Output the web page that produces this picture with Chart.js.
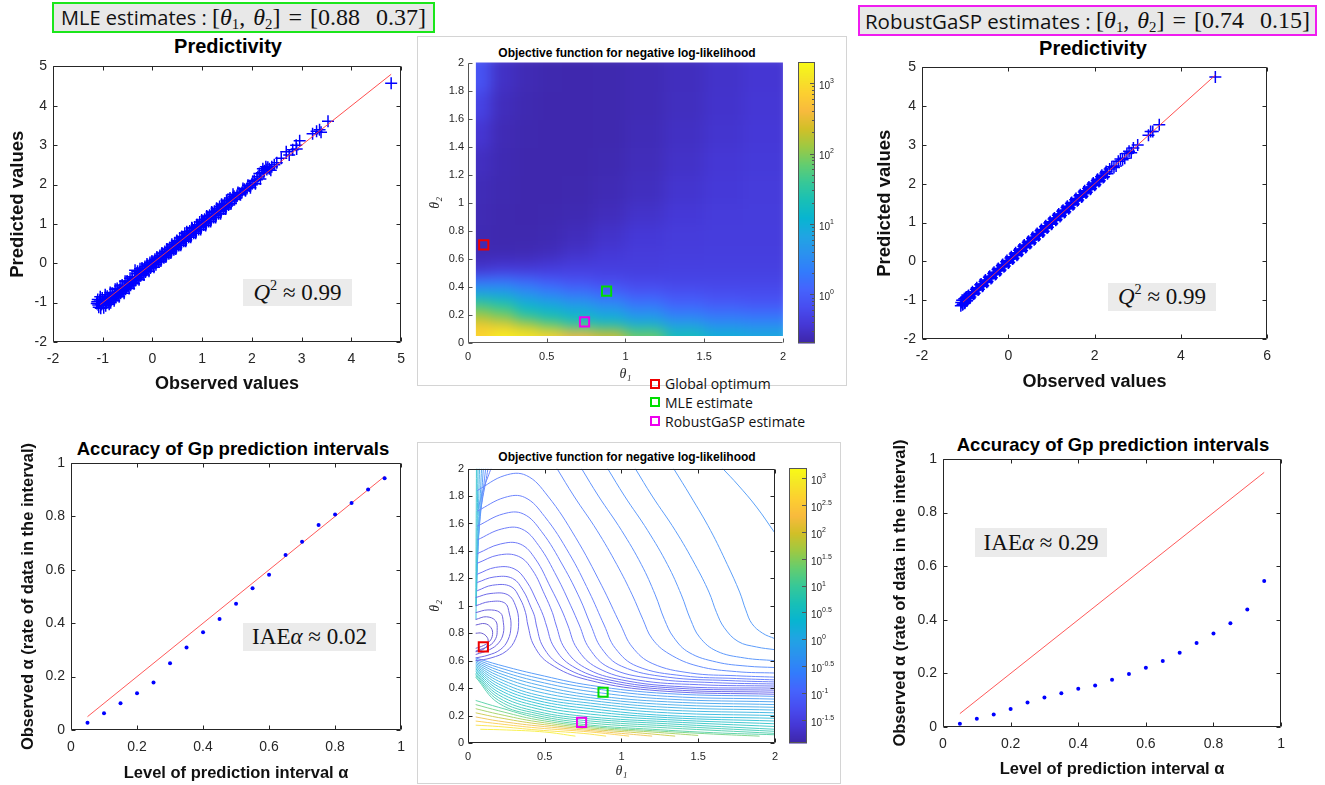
<!DOCTYPE html>
<html><head><meta charset="utf-8">
<script src="https://cdn.jsdelivr.net/npm/chart.js@4.4.1/dist/chart.umd.min.js"></script>
<style>
body{margin:0;background:#fff;width:1325px;height:785px;overflow:hidden;position:relative;font-family:"Liberation Sans",Arial,sans-serif;}
.t{position:absolute;transform:translate(-50%,-50%);white-space:nowrap;font-weight:bold;color:#000;}
.frame{position:absolute;border:1px solid #d4d4d4;box-sizing:border-box;}
.est{position:absolute;box-sizing:border-box;background:#e8e8e8;display:flex;align-items:center;justify-content:center;white-space:nowrap;color:#111;}
.sans{font-family:"Open Sans","Noto Sans",sans-serif;}
.math{font-family:"Liberation Serif","DejaVu Serif",serif;word-spacing:2px;}
.gbox{position:absolute;background:#ebebeb;display:flex;align-items:center;justify-content:center;font-family:"Liberation Serif",serif;white-space:nowrap;color:#111;}
.leg{position:absolute;font-family:"Open Sans","Noto Sans",sans-serif;font-size:14px;line-height:16px;color:#111;white-space:nowrap;}
.sq{position:absolute;width:10px;height:10px;border:2px solid;box-sizing:border-box;}
.sb{position:relative;font-size:0.62em;top:0.3em;}
.sp{position:relative;font-size:0.62em;top:-0.5em;}
canvas{position:absolute;}
</style></head>
<body>
<div class="frame" style="left:417px;top:36px;width:430px;height:350px;"></div>
<div class="frame" style="left:417px;top:442px;width:424px;height:342px;"></div>

<div class="est" style="left:52px;top:2px;width:383px;height:31px;border:2px solid #1be61b;"><span class="sans" style="font-size:20px">MLE estimates :&nbsp;</span><span class="math" style="font-size:24px">[<i>θ</i><span class="sb">1</span>, <i>θ</i><span class="sb">2</span>] = [0.88&nbsp;&nbsp;0.37]</span></div>
<div class="est" style="left:858px;top:5px;width:459px;height:31px;border:2px solid #f01cf0;"><span class="sans" style="font-size:20.5px">RobustGaSP estimates :&nbsp;</span><span class="math" style="font-size:24px">[<i>θ</i><span class="sb">1</span>, <i>θ</i><span class="sb">2</span>] = [0.74&nbsp;&nbsp;0.15]</span></div>

<div class="t" style="left:228px;top:46px;font-size:20px;">Predictivity</div>
<div class="t" style="left:1093px;top:48px;font-size:20px;">Predictivity</div>
<div class="t" style="left:627px;top:53px;font-size:12px;">Objective function for negative log-likelihood</div>
<div class="t" style="left:627px;top:457px;font-size:12px;">Objective function for negative log-likelihood</div>
<div class="t" style="left:233px;top:449px;font-size:18.5px;">Accuracy of Gp prediction intervals</div>
<div class="t" style="left:1113px;top:445px;font-size:18.5px;">Accuracy of Gp prediction intervals</div>

<div id="overlay"></div>

<script>
// ---------------- DATA ----------------
const mlePoints = [
[-1.12,-1.02],[-1.10,-0.92],[-1.08,-1.12],[-1.05,-0.85],[-1.03,-1.05],[-1.00,-0.95],[-0.98,-1.13],[-0.95,-0.80],[-0.92,-1.00],[-0.90,-0.88],
[-0.87,-1.04],[-0.85,-0.74],[-0.82,-0.92],[-0.80,-0.82],[-0.77,-0.95],[-0.75,-0.66],[-0.72,-0.82],[-0.70,-0.72],[-0.67,-0.85],[-0.65,-0.58],
[-0.62,-0.72],[-0.60,-0.62],[-0.57,-0.76],[-0.55,-0.46],[-0.52,-0.60],[-0.50,-0.50],[-0.47,-0.64],[-0.45,-0.38],[-0.42,-0.50],[-0.40,-0.42],
[-0.37,-0.52],[-0.35,-0.18],[-0.32,-0.38],[-0.30,-0.20],[-0.27,-0.42],[-0.25,-0.14],[-0.22,-0.28],[-0.20,-0.16],[-0.17,-0.30],[-0.15,-0.08],
[-0.12,-0.18],[-0.10,-0.06],[-0.07,-0.20],[-0.05,0.02],[-0.02,-0.08],[0.00,0.00],[0.03,-0.10],[0.05,0.10],[0.08,0.02],[0.10,0.12],
[0.13,0.04],[0.15,0.20],[0.18,0.10],[0.20,0.24],[0.23,0.14],[0.25,0.30],[0.28,0.20],[0.30,0.34],[0.33,0.24],[0.35,0.40],
[0.38,0.30],[0.40,0.44],[0.43,0.34],[0.45,0.52],[0.48,0.40],[0.50,0.55],[0.53,0.45],[0.55,0.64],[0.58,0.50],[0.60,0.66],
[0.63,0.56],[0.65,0.76],[0.68,0.60],[0.70,0.76],[0.73,0.66],[0.75,0.82],[0.78,0.72],[0.80,0.88],[0.83,0.76],[0.85,0.92],
[0.88,0.82],[0.90,0.98],[0.93,0.86],[0.95,1.05],[0.98,0.92],[1.00,1.06],[1.03,0.97],[1.05,1.12],[1.08,1.02],[1.10,1.18],
[1.13,1.06],[1.15,1.22],[1.18,1.12],[1.20,1.28],[1.23,1.16],[1.25,1.32],[1.28,1.22],[1.30,1.38],[1.33,1.26],[1.35,1.44],
[1.38,1.32],[1.40,1.46],[1.43,1.38],[1.45,1.52],[1.48,1.42],[1.50,1.58],[1.53,1.48],[1.55,1.60],[1.58,1.52],[1.62,1.75],
[1.65,1.62],[1.70,1.72],[1.75,1.78],[1.80,1.80],[1.85,1.88],[1.90,1.90],[1.95,1.96],[2.00,2.02],[2.05,2.10],[2.10,2.12],
[2.15,2.28],[2.20,2.30],[2.22,2.40],[2.25,2.35],[2.28,2.45],[2.30,2.38],[2.35,2.40],[2.40,2.45],[2.50,2.55],[2.59,2.67],
[2.69,2.83],[2.75,2.75],[2.82,2.88],[2.89,3.00],[2.96,3.11],[2.90,2.90],[3.22,3.29],[3.30,3.35],[3.36,3.39],[3.39,3.33],
[3.53,3.61],[4.80,4.57],
[-1.11,-0.98],[-1.09,-1.06],[-1.06,-0.96],[-1.04,-1.14],[-1.01,-0.88],[-0.99,-1.04],[-0.96,-0.92],[-0.94,-1.08],[-0.91,-0.84],[-0.89,-0.96],
[-0.86,-0.88],[-0.84,-1.00],[-0.81,-0.76],[-0.79,-0.90],[-0.76,-0.78],[-0.74,-0.86],[-0.71,-0.64],[-0.69,-0.80],[-0.66,-0.68],[-0.64,-0.76],
[-0.61,-0.55],[-0.59,-0.70],[-0.56,-0.58],[-0.54,-0.66],[-0.51,-0.45],[-0.49,-0.58],[-0.46,-0.48],[-0.44,-0.56],[-0.41,-0.34],[-0.39,-0.48],
[-0.36,-0.36],[-0.34,-0.44],[-0.31,-0.26],[-0.29,-0.36],[-0.26,-0.24],[-0.24,-0.32],[-0.21,-0.12],[-0.19,-0.26],[-0.16,-0.14],[-0.14,-0.22],
[-0.11,-0.02],[-0.09,-0.14],[-0.06,-0.04],[-0.04,-0.12],[-0.01,0.06],[0.02,-0.04],[0.04,0.06],[0.07,-0.04],[0.09,0.16],[0.12,0.06],
[0.14,0.14],[0.17,0.06],[0.19,0.26],[0.22,0.16],[0.24,0.24],[0.27,0.16],[0.29,0.36],[0.32,0.28],[0.34,0.34],[0.37,0.26],
[0.39,0.48],[0.42,0.38],[0.44,0.44],[0.47,0.36],[0.49,0.58],[0.52,0.50],[0.54,0.54],[0.57,0.46],[0.59,0.68],[0.62,0.60],
[0.64,0.64],[0.67,0.56],[0.69,0.80],[0.72,0.70],[0.74,0.74],[0.77,0.66],[0.79,0.90],[0.82,0.82],[0.84,0.84],[0.87,0.76],
[0.89,0.98],[0.92,0.92],[0.94,0.94],[0.97,0.86],[0.99,1.10],[1.02,1.02],[1.04,1.04],[1.07,0.96],[1.09,1.20],[1.12,1.12],
[1.14,1.14],[1.17,1.06],[1.19,1.30],[1.22,1.22],[1.24,1.24],[1.27,1.16],[1.29,1.40],[1.32,1.32],[1.34,1.34],[1.37,1.26],
[1.39,1.50],[1.42,1.42],[1.44,1.44],[1.47,1.38],[1.49,1.60],[1.52,1.52],[1.56,1.66],[1.60,1.58],[1.64,1.70],[1.68,1.66],
[1.72,1.80],[1.77,1.74],[1.82,1.90],[1.87,1.84],[1.92,1.98],[1.97,1.92],[2.02,2.08],[2.07,2.02],[2.12,2.20],[2.17,2.14],
[2.24,2.30],[2.32,2.44],[2.38,2.36],[2.45,2.50]
];
const rgaspPoints = [
[-1.10,-1.14],[-1.07,-1.00],[-1.05,-1.10],[-1.02,-0.96],[-1.00,-1.06],[-0.97,-0.92],[-0.95,-1.00],[-0.92,-0.88],[-0.90,-0.95],[-0.85,-0.82],
[-0.80,-0.84],[-0.75,-0.72],[-0.70,-0.74],[-0.65,-0.60],[-0.60,-0.64],[-0.55,-0.52],[-0.50,-0.54],[-0.45,-0.41],[-0.40,-0.44],[-0.35,-0.31],
[-0.30,-0.34],[-0.25,-0.21],[-0.20,-0.24],[-0.15,-0.11],[-0.10,-0.14],[-0.05,-0.01],[0.00,-0.04],[0.05,0.09],[0.10,0.06],[0.15,0.19],
[0.20,0.16],[0.25,0.29],[0.30,0.26],[0.35,0.39],[0.40,0.36],[0.45,0.49],[0.50,0.46],[0.55,0.59],[0.60,0.56],[0.65,0.69],
[0.70,0.66],[0.75,0.79],[0.80,0.76],[0.85,0.89],[0.90,0.86],[0.95,0.99],[1.00,0.96],[1.05,1.09],[1.10,1.06],[1.15,1.19],
[1.20,1.16],[1.25,1.29],[1.30,1.26],[1.35,1.39],[1.40,1.36],[1.45,1.49],[1.50,1.46],[1.55,1.59],[1.60,1.56],[1.65,1.69],
[1.70,1.66],[1.75,1.79],[1.80,1.76],[1.85,1.88],[1.90,1.86],[1.95,1.98],[2.00,1.96],[2.05,2.08],[2.10,2.06],[2.15,2.18],
[2.20,2.16],[2.25,2.28],[2.30,2.26],[2.40,2.44],[2.50,2.46],[2.60,2.64],[2.70,2.66],[2.80,2.84],[2.85,2.80],[2.90,2.92],
[3.00,3.00],[3.25,3.25],[3.30,3.35],[3.35,3.35],[3.50,3.52],[4.80,4.75],
[-1.09,-1.06],[-1.06,-1.12],[-1.04,-1.00],[-1.01,-1.08],[-0.99,-0.94],[-0.96,-1.02],[-0.93,-0.90],[-0.88,-0.92],[-0.83,-0.78],[-0.78,-0.82],
[-0.73,-0.68],[-0.68,-0.72],[-0.63,-0.58],[-0.58,-0.62],[-0.53,-0.48],[-0.48,-0.52],[-0.43,-0.38],[-0.38,-0.42],[-0.33,-0.28],[-0.28,-0.32],
[-0.23,-0.18],[-0.18,-0.22],[-0.13,-0.08],[-0.08,-0.12],[-0.03,0.02],[0.02,-0.02],[0.07,0.12],[0.12,0.08],[0.17,0.22],[0.22,0.18],
[0.27,0.32],[0.32,0.28],[0.37,0.42],[0.42,0.38],[0.47,0.52],[0.52,0.48],[0.57,0.62],[0.62,0.58],[0.67,0.72],[0.72,0.68],
[0.77,0.82],[0.82,0.78],[0.87,0.92],[0.92,0.88],[0.97,1.02],[1.02,0.98],[1.07,1.12],[1.12,1.08],[1.17,1.22],[1.22,1.18],
[1.27,1.32],[1.32,1.28],[1.37,1.42],[1.42,1.38],[1.47,1.52],[1.52,1.48],[1.57,1.62],[1.62,1.58],[1.67,1.72],[1.72,1.68],
[1.77,1.82],[1.82,1.78],[1.87,1.92],[1.92,1.88],[1.97,2.02],[2.02,1.98],[2.07,2.12],[2.12,2.08],[2.17,2.22],[2.22,2.18],
[2.27,2.32],[2.35,2.38],[2.45,2.42],[2.55,2.58],[2.65,2.62],[2.75,2.78]
];
const refLineMLE = [-1.05, 4.80];
const refLineRG = [-1.05, 4.80];

const alphaLevels = [0.05,0.10,0.15,0.20,0.25,0.30,0.35,0.40,0.45,0.50,0.55,0.60,0.65,0.70,0.75,0.80,0.85,0.90,0.95];
const coverageMLE = [0.0275,0.0625,0.100,0.1375,0.1775,0.250,0.309,0.366,0.416,0.4725,0.531,0.581,0.655,0.705,0.7675,0.8075,0.850,0.901,0.9425];
const coverageRG  = [0.0125,0.031,0.047,0.067,0.091,0.110,0.126,0.143,0.155,0.176,0.198,0.221,0.246,0.277,0.313,0.349,0.387,0.438,0.545];
const refLineAlpha = [0.05, 0.95];

const globalOptimum = [0.10, 0.70];
const mleEstimate = [0.88, 0.37];
const rgaspEstimate = [0.74, 0.15];

// heat map of log10(objective), rows bottom -> top
const heatTh1Edges = [0.05,0.15,0.3,0.45,0.6,0.8,1.0,1.25,1.5,1.75,2.0];
const heatTh2Edges = [0.05,0.1,0.15,0.2,0.25,0.3,0.35,0.4,0.45,0.5,0.6,0.7,0.85,1.0,1.2,1.4,1.6,1.8,2.0];
const heatLog10 = [
[2.9,3.2,3.1,2.9,2.6,2.4,1.9,1.3,1.0,0.9],
[2.8,2.7,2.4,2.0,1.6,1.4,1.1,0.8,0.6,0.55],
[2.3,2.1,1.7,1.4,1.25,1.05,0.8,0.55,0.4,0.35],
[2.0,1.8,1.35,1.2,1.0,0.8,0.55,0.3,0.2,0.15],
[1.7,1.5,1.1,0.95,0.75,0.55,0.3,0.1,0.0,-0.05],
[1.2,1.1,0.8,0.6,0.45,0.3,0.1,-0.05,-0.1,-0.15],
[0.75,0.7,0.5,0.35,0.2,0.05,-0.1,-0.15,-0.2,-0.2],
[0.4,0.4,0.25,0.1,-0.05,-0.15,-0.2,-0.25,-0.25,-0.25],
[0.05,0.1,0.0,-0.15,-0.2,-0.25,-0.3,-0.3,-0.3,-0.3],
[-0.5,-0.45,-0.45,-0.4,-0.35,-0.35,-0.35,-0.33,-0.33,-0.33],
[-0.63,-0.63,-0.62,-0.58,-0.5,-0.42,-0.38,-0.36,-0.35,-0.35],
[-0.63,-0.65,-0.65,-0.63,-0.58,-0.5,-0.42,-0.38,-0.36,-0.36],
[-0.62,-0.65,-0.66,-0.65,-0.63,-0.58,-0.5,-0.42,-0.38,-0.37],
[-0.6,-0.64,-0.66,-0.66,-0.65,-0.62,-0.56,-0.47,-0.41,-0.38],
[-0.55,-0.63,-0.66,-0.66,-0.66,-0.64,-0.59,-0.51,-0.44,-0.4],
[-0.45,-0.62,-0.65,-0.66,-0.66,-0.65,-0.61,-0.54,-0.47,-0.42],
[-0.3,-0.58,-0.64,-0.66,-0.66,-0.65,-0.62,-0.56,-0.49,-0.44],
[-0.1,-0.53,-0.62,-0.65,-0.66,-0.65,-0.62,-0.57,-0.5,-0.45]
];
const heatRange = [-0.69, 3.30];
const heatBarExps = [0,1,2,3];

// contour lines [theta1, theta2], with their log10 levels
const contourOuter = [
[[1.66,2.0],[1.76,1.88],[1.88,1.72],[2.0,1.53]],
[[1.34,2.0],[1.45,1.8],[1.58,1.55],[1.69,1.3],[1.77,1.1],[1.81,0.97],[1.85,0.87],[1.92,0.8],[2.0,0.76]],
[[1.09,2.0],[1.2,1.8],[1.35,1.55],[1.48,1.3],[1.57,1.1],[1.62,0.95],[1.67,0.84],[1.76,0.74],[1.88,0.7],[2.0,0.68]],
[[0.91,2.0],[1.02,1.8],[1.17,1.55],[1.3,1.3],[1.39,1.08],[1.45,0.9],[1.51,0.77],[1.62,0.67],[1.8,0.62],[2.0,0.6]],
[[0.74,2.0],[0.85,1.8],[1.0,1.55],[1.13,1.3],[1.22,1.08],[1.28,0.9],[1.34,0.77],[1.44,0.66],[1.62,0.59],[1.82,0.56],[2.0,0.55]],
[[0.58,2.0],[0.69,1.8],[0.84,1.55],[0.97,1.3],[1.07,1.08],[1.14,0.9],[1.2,0.76],[1.31,0.65],[1.5,0.56],[1.75,0.52],[2.0,0.51]]
];
const levelsOuter = [-0.45,-0.5,-0.55,-0.6,-0.7,-0.8];
const contourPeaked = [
[[0.06,1.84],[0.24,1.95],[0.38,1.95],[0.52,1.8],[0.7,1.5],[0.87,1.15],[0.995,0.86],[1.07,0.7],[1.2,0.58],[1.45,0.51],[1.75,0.49],[2.0,0.48]],
[[0.06,1.69],[0.24,1.79],[0.37,1.79],[0.5,1.65],[0.66,1.38],[0.79,1.1],[0.887,0.86],[0.96,0.69],[1.1,0.56],[1.4,0.49],[1.75,0.47],[2.0,0.46]],
[[0.06,1.58],[0.23,1.67],[0.36,1.67],[0.48,1.54],[0.62,1.29],[0.73,1.05],[0.80,0.86],[0.87,0.69],[1.0,0.56],[1.3,0.48],[1.7,0.455],[2.0,0.445]],
[[0.06,1.48],[0.22,1.56],[0.35,1.56],[0.46,1.44],[0.58,1.21],[0.67,1.0],[0.725,0.86],[0.79,0.69],[0.92,0.55],[1.2,0.47],[1.6,0.44],[2.0,0.43]],
[[0.06,1.38],[0.21,1.45],[0.34,1.45],[0.44,1.34],[0.54,1.13],[0.61,0.97],[0.65,0.86],[0.71,0.69],[0.84,0.55],[1.1,0.46],[1.5,0.425],[2.0,0.415]],
[[0.06,1.31],[0.2,1.37],[0.33,1.36],[0.42,1.26],[0.5,1.08],[0.55,0.95],[0.574,0.86],[0.63,0.69],[0.76,0.55],[1.0,0.46],[1.4,0.41],[2.0,0.40]],
[[0.06,1.23],[0.18,1.28],[0.3,1.27],[0.38,1.18],[0.45,1.03],[0.49,0.93],[0.51,0.86],[0.56,0.7],[0.68,0.56],[0.92,0.46],[1.35,0.4],[2.0,0.385]],
[[0.06,1.17],[0.17,1.21],[0.29,1.2],[0.36,1.11],[0.41,0.99],[0.435,0.92],[0.445,0.86],[0.49,0.7],[0.6,0.57],[0.85,0.46],[1.3,0.39],[2.0,0.37]],
[[0.06,1.11],[0.16,1.15],[0.28,1.14],[0.34,1.05],[0.375,0.95],[0.39,0.86],[0.43,0.71],[0.53,0.58],[0.78,0.46],[1.25,0.38],[2.0,0.355]],
[[0.05,1.06],[0.15,1.09],[0.26,1.08],[0.31,1.0],[0.33,0.88],[0.31,0.76],[0.25,0.67],[0.15,0.62],[0.05,0.6]],
[[0.05,1.0],[0.14,1.03],[0.24,1.02],[0.27,0.94],[0.28,0.85],[0.26,0.75],[0.21,0.68],[0.13,0.64],[0.05,0.62]],
[[0.05,0.95],[0.13,0.97],[0.21,0.95],[0.23,0.88],[0.23,0.8],[0.2,0.73],[0.14,0.68],[0.05,0.645]],
[[0.05,0.9],[0.12,0.92],[0.18,0.89],[0.19,0.82],[0.18,0.76],[0.14,0.71],[0.05,0.67]],
[[0.05,0.86],[0.11,0.87],[0.15,0.84],[0.16,0.79],[0.14,0.74],[0.1,0.71],[0.05,0.69]],
[[0.05,0.8],[0.09,0.8],[0.125,0.77],[0.13,0.73],[0.11,0.69],[0.07,0.67],[0.05,0.665]]
];
const levelsPeaked = [-0.9,-0.97,-1.04,-1.1,-1.16,-1.22,-1.28,-1.34,-1.4,-1.46,-1.52,-1.58,-1.64,-1.7,-1.76];
const contourLeft = [
[[0.055,2.0],[0.053,1.5],[0.051,1.0]],
[[0.065,2.0],[0.06,1.6],[0.055,1.2],[0.052,0.9]],
[[0.075,2.0],[0.068,1.7],[0.06,1.35],[0.054,1.0]],
[[0.088,2.0],[0.078,1.75],[0.066,1.45],[0.056,1.1]],
[[0.10,2.0],[0.088,1.8],[0.072,1.55],[0.058,1.25]],
[[0.115,2.0],[0.10,1.85],[0.08,1.65],[0.06,1.4]],
[[0.13,2.0],[0.115,1.9],[0.09,1.75],[0.062,1.55]],
[[0.15,2.0],[0.13,1.94],[0.10,1.85],[0.065,1.7]]
];
const levelsLeft = [0.5,0.25,0.0,-0.25,-0.5,-0.7,-0.85,-1.0];
const contourFan = [
[[0.05,0.62],[0.2,0.57],[0.45,0.5],[0.8,0.42],[1.3,0.36],[2.0,0.34]],
[[0.05,0.61],[0.2,0.55],[0.45,0.475],[0.8,0.4],[1.3,0.34],[2.0,0.32]],
[[0.05,0.60],[0.2,0.53],[0.45,0.45],[0.8,0.375],[1.3,0.32],[2.0,0.3]],
[[0.05,0.59],[0.2,0.51],[0.45,0.425],[0.8,0.35],[1.3,0.3],[2.0,0.28]],
[[0.05,0.58],[0.2,0.49],[0.45,0.4],[0.8,0.33],[1.3,0.28],[2.0,0.26]],
[[0.05,0.57],[0.2,0.47],[0.45,0.375],[0.8,0.31],[1.3,0.26],[2.0,0.24]],
[[0.05,0.56],[0.2,0.45],[0.45,0.35],[0.8,0.29],[1.3,0.24],[2.0,0.22]],
[[0.05,0.55],[0.2,0.43],[0.45,0.33],[0.8,0.27],[1.3,0.22],[2.0,0.2]],
[[0.05,0.54],[0.2,0.41],[0.45,0.31],[0.8,0.25],[1.3,0.2],[2.0,0.18]],
[[0.05,0.53],[0.2,0.39],[0.45,0.29],[0.8,0.23],[1.3,0.185],[2.0,0.16]],
[[0.05,0.52],[0.2,0.37],[0.45,0.27],[0.8,0.21],[1.3,0.17],[2.0,0.14]],
[[0.05,0.51],[0.2,0.35],[0.45,0.25],[0.8,0.19],[1.3,0.155],[2.0,0.12]],
[[0.05,0.50],[0.2,0.33],[0.45,0.23],[0.8,0.175],[1.3,0.14],[2.0,0.1]],
[[0.05,0.49],[0.2,0.31],[0.45,0.215],[0.8,0.16],[1.3,0.125],[2.0,0.085]],
[[0.05,0.48],[0.2,0.29],[0.45,0.2],[0.8,0.145],[1.3,0.11],[2.0,0.07]]
];
const levelsFan = [-0.5,-0.4,-0.3,-0.2,-0.1,0.0,0.1,0.2,0.3,0.4,0.5,0.6,0.7,0.8,0.9];
const contourBottom = [
[[0.05,0.31],[0.2,0.26],[0.45,0.185],[0.8,0.13],[1.2,0.1],[1.6,0.075],[2.0,0.06]],
[[0.05,0.28],[0.2,0.235],[0.45,0.17],[0.8,0.12],[1.2,0.09],[1.6,0.065],[1.9,0.05]],
[[0.05,0.25],[0.2,0.21],[0.45,0.155],[0.8,0.11],[1.2,0.08],[1.5,0.055]],
[[0.05,0.22],[0.2,0.185],[0.45,0.14],[0.8,0.1],[1.1,0.075],[1.35,0.05]],
[[0.05,0.19],[0.2,0.16],[0.45,0.125],[0.8,0.09],[1.0,0.07],[1.2,0.05]],
[[0.05,0.16],[0.2,0.14],[0.45,0.11],[0.8,0.08],[1.05,0.05]],
[[0.05,0.13],[0.2,0.12],[0.45,0.095],[0.75,0.07],[0.9,0.05]],
[[0.08,0.1],[0.25,0.095],[0.5,0.08],[0.7,0.05]]
];
const levelsBottom = [1.0,1.3,1.6,1.9,2.2,2.5,2.8,3.0];
const contourRange = [-1.93, 3.19];
const contourBarExps = [-1.5,-1,-0.5,0,0.5,1,1.5,2,2.5,3];

// ---------------- STYLE HELPERS ----------------
const PARULA = [[0.2422,0.1504,0.6603],[0.2706,0.2147,0.8364],[0.2813,0.3006,0.9414],[0.2699,0.3892,0.9906],[0.1963,0.4847,0.9892],[0.1687,0.5703,0.9359],[0.1248,0.6459,0.8883],[0.0297,0.7082,0.8163],[0.0964,0.7500,0.7120],[0.2161,0.7843,0.5923],[0.3909,0.8029,0.4354],[0.6174,0.7876,0.2612],[0.8203,0.7498,0.1535],[0.9728,0.7298,0.2394],[0.9892,0.8136,0.1885],[0.9597,0.9135,0.1423],[0.9769,0.9839,0.0805]];
const PARULA_T = [0,4,8,12,16,20,24,28,32,36,40,44,48,52,56,60,63].map(i=>i/63);
function parulaRGB(t){
  t = Math.max(0, Math.min(1, t));
  let i = 0; while (i < PARULA_T.length - 2 && t > PARULA_T[i+1]) i++;
  const f = (t - PARULA_T[i]) / (PARULA_T[i+1] - PARULA_T[i]);
  const a = PARULA[i], b = PARULA[i+1];
  return [0,1,2].map(k => 255*(a[k] + (b[k]-a[k])*f));
}
const rgbStr = c => 'rgb(' + c.map(v => Math.round(v)).join(',') + ')';
const parula = t => rgbStr(parulaRGB(t));
const heatColor = v => parula((v - heatRange[0]) / (heatRange[1] - heatRange[0]));
const contColor = v => rgbStr(parulaRGB((v - contourRange[0]) / (contourRange[1] - contourRange[0])).map(c => c + (255 - c)*0.22));

Chart.defaults.font.family = "'Liberation Sans', Arial, sans-serif";
Chart.defaults.animation = false;
Chart.defaults.events = [];
Chart.defaults.plugins.legend.display = false;
Chart.defaults.plugins.tooltip.enabled = false;

function makeCanvas(plot, pad){
  const c = document.createElement('canvas');
  const w = plot.r - plot.l + pad.l + pad.r, h = plot.b - plot.t + pad.t + pad.b;
  c.style.left = (plot.l - pad.l) + 'px'; c.style.top = (plot.t - pad.t) + 'px';
  c.style.width = w + 'px'; c.style.height = h + 'px'; c.width = w; c.height = h;
  document.body.appendChild(c);
  return c;
}
const fmt = v => String(+(+v).toFixed(2));
function axis(o){
  return {
    type:'linear', position:o.pos, min:o.min, max:o.max,
    afterFit(s){ if (o.pos === 'left' || o.pos === 'right') s.width = o.fit; else s.height = o.fit; },
    grid:{display:false, drawTicks:false}, border:{display:false},
    ticks:{stepSize:o.step, padding:o.tpad, color:'#262626', font:{size:o.fs}, maxRotation:0, autoSkip:false, callback:fmt},
    title:{display:true, text:o.title, color:o.tcolor || '#111', padding:{top:4,bottom:4},
      font:{family:o.tfam || "'Liberation Sans', Arial, sans-serif", size:o.tfs, weight:o.tw || 'bold', style:o.tstyle || 'normal'}}
  };
}
const boxPlugin = {
  id:'box',
  afterDatasetsDraw(chart, args, opts){
    const {ctx, chartArea:a, scales:{x, y}} = chart;
    const sides = opts.sides || 'lrtb', tl = opts.tick || 4;
    const L = Math.round(a.left) + 0.5, R = Math.round(a.right) - 0.5, T = Math.round(a.top) + 0.5, B = Math.round(a.bottom) - 0.5;
    ctx.save(); ctx.strokeStyle = opts.color || '#262626'; ctx.lineWidth = 1; ctx.beginPath();
    if (sides.includes('l')) { ctx.moveTo(L, T); ctx.lineTo(L, B); }
    if (sides.includes('r')) { ctx.moveTo(R, T); ctx.lineTo(R, B); }
    if (sides.includes('t')) { ctx.moveTo(L, T); ctx.lineTo(R, T); }
    if (sides.includes('b')) { ctx.moveTo(L, B); ctx.lineTo(R, B); }
    x.ticks.forEach(t => { const p = Math.round(x.getPixelForValue(t.value)) + 0.5;
      if (sides.includes('b')) { ctx.moveTo(p, B); ctx.lineTo(p, B - tl); }
      if (sides.includes('t')) { ctx.moveTo(p, T); ctx.lineTo(p, T + tl); } });
    y.ticks.forEach(t => { const p = Math.round(y.getPixelForValue(t.value)) + 0.5;
      if (sides.includes('l')) { ctx.moveTo(L, p); ctx.lineTo(L + tl, p); }
      if (sides.includes('r')) { ctx.moveTo(R, p); ctx.lineTo(R - tl, p); } });
    ctx.stroke(); ctx.restore();
  }
};
const pts = arr => arr.map(p => ({x:p[0], y:p[1]}));
const lineDs = (ends, color) => ({data:[{x:ends[0],y:ends[0]},{x:ends[1],y:ends[1]}], showLine:true, borderColor:color, borderWidth:1, pointRadius:0});

// ---------------- PREDICTIVITY SCATTERS ----------------
function predictivity(plot, pad, points, ref, xmin, xmax, xstep){
  new Chart(makeCanvas(plot, pad), {
    type:'scatter',
    data:{datasets:[
      lineDs(ref, 'rgba(255,60,60,0.9)'),
      {data:pts(points), pointStyle:'cross', pointRadius:6, borderColor:'#0000ff', borderWidth:1.5, backgroundColor:'#0000ff'}
    ]},
    options:{responsive:false, layout:{padding:{top:pad.t, right:pad.r, left:0, bottom:0}},
      scales:{
        x:axis({pos:'bottom', min:xmin, max:xmax, step:xstep, fit:pad.b, tpad:9, fs:14, title:'Observed values', tfs:18}),
        y:axis({pos:'left', min:-2, max:5, step:1, fit:pad.l, tpad:6, fs:14, title:'Predicted values', tfs:18.5})
      },
      plugins:{box:{sides:'lrtb'}}},
    plugins:[boxPlugin]
  });
}
predictivity({l:53,t:62,r:402,b:342}, {l:50,t:10,r:12,b:57}, mlePoints, refLineMLE, -2, 5, 1);
predictivity({l:922,t:63,r:1268,b:339}, {l:52,t:10,r:12,b:58}, rgaspPoints, refLineRG, -2, 6, 2);

// ---------------- ACCURACY PLOTS ----------------
function accuracy(plot, pad, cov){
  new Chart(makeCanvas(plot, pad), {
    type:'scatter',
    data:{datasets:[
      {data:alphaLevels.map((a,i)=>({x:a, y:cov[i]})), pointStyle:'circle', pointRadius:2, borderWidth:0, backgroundColor:'#0000ff'},
      lineDs(refLineAlpha, 'rgba(255,60,60,0.85)')
    ]},
    options:{responsive:false, layout:{padding:{top:pad.t, right:pad.r, left:0, bottom:0}},
      scales:{
        x:axis({pos:'bottom', min:0, max:1, step:0.2, fit:pad.b, tpad:9, fs:14, title:'Level of prediction interval α', tfs:16.5}),
        y:axis({pos:'left', min:0, max:1, step:0.2, fit:pad.l, tpad:6, fs:14, title:'Observed α (rate of data in the interval)', tfs:16.5})
      },
      plugins:{box:{sides:'lrtb'}}},
    plugins:[boxPlugin]
  });
}
accuracy({l:71,t:463,r:402,b:730}, {l:56,t:50,r:12,b:57}, coverageMLE);
accuracy({l:943,t:459,r:1282,b:727}, {l:56,t:50,r:12,b:56}, coverageRG);

// ---------------- HEAT MAP ----------------
const markerSets = () => [
  {data:[{x:globalOptimum[0], y:globalOptimum[1]}], pointStyle:'rect', pointRadius:6.5, borderWidth:2, borderColor:'#ee0000', backgroundColor:'rgba(0,0,0,0)'},
  {data:[{x:mleEstimate[0], y:mleEstimate[1]}], pointStyle:'rect', pointRadius:6.5, borderWidth:2, borderColor:'#00dd00', backgroundColor:'rgba(0,0,0,0)'},
  {data:[{x:rgaspEstimate[0], y:rgaspEstimate[1]}], pointStyle:'rect', pointRadius:6.5, borderWidth:2, borderColor:'#ee00ee', backgroundColor:'rgba(0,0,0,0)'}
];
const heatPlugin = {
  id:'heat',
  beforeDatasetsDraw(chart){
    const {ctx, scales:{x, y}} = chart;
    const W = chart.width, H = chart.height, dpr = chart.currentDevicePixelRatio || 1;
    const off = document.createElement('canvas'); off.width = Math.round(W*dpr); off.height = Math.round(H*dpr);
    const o = off.getContext('2d'); o.scale(dpr, dpr);
    const nr = heatTh2Edges.length - 1, nc = heatTh1Edges.length - 1;
    for (let r = 0; r < nr; r++) for (let c = 0; c < nc; c++) {
      let x0 = x.getPixelForValue(heatTh1Edges[c]), x1 = x.getPixelForValue(heatTh1Edges[c+1]);
      let y0 = y.getPixelForValue(heatTh2Edges[r+1]), y1 = y.getPixelForValue(heatTh2Edges[r]);
      if (c === 0) x0 -= 30; if (c === nc-1) x1 += 30; if (r === 0) y1 += 30; if (r === nr-1) y0 -= 30;
      o.fillStyle = heatColor(heatLog10[r][c]);
      o.fillRect(Math.floor(x0), Math.floor(y0), Math.ceil(x1-x0)+1, Math.ceil(y1-y0)+1);
    }
    const cl = x.getPixelForValue(0.05), cr = x.getPixelForValue(2), ct = y.getPixelForValue(2), cb = y.getPixelForValue(0.05);
    ctx.save(); ctx.beginPath(); ctx.rect(cl, ct, cr-cl, cb-ct); ctx.clip();
    ctx.filter = 'blur(7px)'; ctx.drawImage(off, 0, 0, W, H); ctx.filter = 'none'; ctx.restore();
  }
};
function thetaAxes(fitL, fitB, tpadX){
  return {
    x:axis({pos:'bottom', min:0, max:2, step:0.5, fit:fitB, tpad:tpadX, fs:11, title:'θ₁', tfs:14, tfam:"'Liberation Serif', serif", tw:'normal', tstyle:'italic', tcolor:'#262626'}),
    y:axis({pos:'left', min:0, max:2, step:0.2, fit:fitL, tpad:4, fs:11, title:'θ₂', tfs:14, tfam:"'Liberation Serif', serif", tw:'normal', tstyle:'italic', tcolor:'#262626'})
  };
}
new Chart(makeCanvas({l:468,t:62,r:785,b:343}, {l:45,t:10,r:8,b:44}), {
  type:'scatter',
  data:{datasets:markerSets()},
  options:{responsive:false, layout:{padding:{top:10, right:8, left:0, bottom:0}},
    scales:thetaAxes(45, 44, 7), plugins:{box:{sides:'lb', color:'#555'}}},
  plugins:[heatPlugin, boxPlugin]
});

// ---------------- CONTOUR ----------------
const curveSets = (curves, levels) => curves.map((c, i) => ({data:pts(c), showLine:true, tension:0.4, borderColor:contColor(levels[i]), borderWidth:1, pointRadius:0}));
new Chart(makeCanvas({l:468,t:468,r:777,b:743}, {l:45,t:10,r:8,b:41}), {
  type:'scatter',
  data:{datasets:[].concat(markerSets(), curveSets(contourOuter, levelsOuter), curveSets(contourPeaked, levelsPeaked),
    curveSets(contourLeft, levelsLeft), curveSets(contourFan, levelsFan), curveSets(contourBottom, levelsBottom))},
  options:{responsive:false, layout:{padding:{top:10, right:8, left:0, bottom:0}},
    scales:thetaAxes(45, 41, 7), plugins:{box:{sides:'lrtb'}}},
  plugins:[boxPlugin]
});

// ---------------- COLORBARS ----------------
const cbarPlugin = {
  id:'cbar',
  afterDraw(chart, args, opts){
    const {ctx, chartArea:a, scales:{y}} = chart;
    const [lo, hi] = opts.range;
    ctx.save();
    for (let py = Math.floor(a.top); py < a.bottom; py++) {
      const v = Math.log10(y.getValueForPixel(py + 0.5));
      ctx.fillStyle = parula((v - lo) / (hi - lo));
      ctx.fillRect(a.left, py, a.right - a.left, 1.5);
    }
    ctx.strokeStyle = '#555'; ctx.lineWidth = 1;
    ctx.strokeRect(Math.round(a.left)+0.5, Math.round(a.top)+0.5, Math.round(a.right-a.left)-1, Math.round(a.bottom-a.top)-1);
    ctx.beginPath();
    opts.exps.forEach(e => { const p = Math.round(y.getPixelForValue(Math.pow(10, e))) + 0.5;
      ctx.moveTo(a.right - 1, p); ctx.lineTo(a.right - 5, p); });
    (opts.minor || []).forEach(m => { const p = Math.round(y.getPixelForValue(m)) + 0.5;
      ctx.moveTo(a.right - 1, p); ctx.lineTo(a.right - 3, p); });
    ctx.stroke();
    ctx.fillStyle = '#262626'; ctx.textBaseline = 'middle';
    opts.exps.forEach(e => { const p = y.getPixelForValue(Math.pow(10, e));
      ctx.font = "10px 'Liberation Sans', Arial, sans-serif"; ctx.fillText('10', a.right + 4, p + 3);
      const w = ctx.measureText('10').width;
      ctx.font = "7px 'Liberation Sans', Arial, sans-serif"; ctx.fillText(String(e), a.right + 4 + w, p - 2); });
    ctx.restore();
  }
};
function colorbar(plot, range, exps, minor){
  new Chart(makeCanvas(plot, {l:0,t:8,r:36,b:8}), {
    type:'scatter', data:{datasets:[]},
    options:{responsive:false, layout:{padding:{top:8,bottom:8,left:0,right:0}},
      scales:{x:{display:false, min:0, max:1},
        y:{type:'logarithmic', position:'right', min:Math.pow(10, range[0]), max:Math.pow(10, range[1]),
           afterFit(s){ s.width = 36; }, grid:{display:false}, border:{display:false}, ticks:{display:false}}},
      plugins:{cbar:{range:range, exps:exps, minor:minor}}},
    plugins:[cbarPlugin]
  });
}
const heatMinor = [0.3,0.4,0.5,0.6,0.7,0.8,0.9,2,3,4,5,6,7,8,9,20,30,40,50,60,70,80,90,200,300,400,500,600,700,800,900,2000];
colorbar({l:798,t:62,r:815,b:343}, heatRange, heatBarExps, heatMinor);
colorbar({l:789,t:468,r:807,b:743}, contourRange, contourBarExps, []);

// ---------------- TEXT OVERLAYS ----------------
document.getElementById('overlay').innerHTML =
 '<div class="gbox" style="left:243px;top:279px;width:109px;height:27px;font-size:23px"><i>Q</i><span class="sp">2</span>&nbsp;≈ 0.99</div>' +
 '<div class="gbox" style="left:1108px;top:283px;width:108px;height:28px;font-size:23px"><i>Q</i><span class="sp">2</span>&nbsp;≈ 0.99</div>' +
 '<div class="gbox" style="left:243px;top:623px;width:133px;height:28px;font-size:23px">IAE<i>α</i>&nbsp;≈ 0.02</div>' +
 '<div class="gbox" style="left:975px;top:528px;width:132px;height:29px;font-size:23px">IAE<i>α</i>&nbsp;≈ 0.29</div>' +
 '<div class="sq" style="left:650px;top:379px;border-color:#ee0000"></div><div class="leg" style="left:665px;top:376px">Global optimum</div>' +
 '<div class="sq" style="left:650px;top:397px;border-color:#00dd00"></div><div class="leg" style="left:665px;top:395px">MLE estimate</div>' +
 '<div class="sq" style="left:650px;top:416px;border-color:#ee00ee"></div><div class="leg" style="left:665px;top:414px">RobustGaSP estimate</div>';
</script>
</body></html>
